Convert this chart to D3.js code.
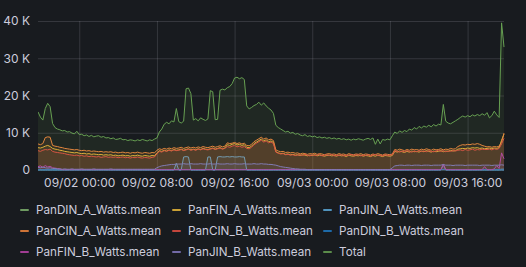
<!DOCTYPE html>
<html>
<head>
<meta charset="utf-8">
<script src="https://cdn.jsdelivr.net/npm/d3@7"></script>
<style>
  html, body { margin: 0; padding: 0; background: #181b1f; }
  svg { display: block; font-family: Inter, "Noto Sans", sans-serif; }
</style>
</head>
<body>
<svg id="chart" width="526" height="267"></svg>
<script>
// readings every 15 minutes, starting 09/01 19:45, values in K (kilowatts)
const startTime = new Date(2023, 8, 1, 19, 45);
const stepMinutes = 15;

const seriesNames = [
  "PanDIN_A_Watts.mean", "PanFIN_A_Watts.mean", "PanJIN_A_Watts.mean",
  "PanCIN_A_Watts.mean", "PanCIN_B_Watts.mean", "PanDIN_B_Watts.mean",
  "PanFIN_B_Watts.mean", "PanJIN_B_Watts.mean", "Total"
];
const seriesColors = [
  "#7EB26D", "#EAB839", "#5BA8D8",
  "#EF843C", "#E24D42", "#1F78C1",
  "#BA43A9", "#8378C0", "#67A052"
];

const yTicks = [0, 10, 20, 30, 40];

const dinA = [
  0.1, 0.1, 0.1, 0.1, 0.1, 0.1, 0.1, 0.1, 0.1, 0.1,
  0.1, 0.1, 0.1, 0.1, 0.1, 0.1, 0.1, 0.1, 0.1, 0.1,
  0.1, 0.1, 0.1, 0.1, 0.1, 0.1, 0.1, 0.1, 0.1, 0.1,
  0.1, 0.1, 0.1, 0.1, 0.1, 0.1, 0.1, 0.1, 0.1, 0.1,
  0.1, 0.1, 0.1, 0.1, 0.1, 0.1, 0.1, 0.1, 0.1, 0.1,
  0.1, 0.1, 0.1, 0.1, 0.1, 0.1, 0.1, 0.1, 0.1, 0.1,
  0.1, 0.1, 0.1, 0.1, 0.1, 0.1, 0.1, 0.1, 0.1, 0.1,
  0.1, 0.1, 0.1, 0.1, 0.1, 0.1, 0.1, 0.1, 0.1, 0.1,
  0.1, 0.1, 0.1, 0.1, 0.1, 0.1, 0.1, 0.1, 0.1, 0.1,
  0.1, 0.1, 0.1, 0.1, 0.1, 0.1, 0.1, 0.1, 0.1, 0.1,
  0.1, 0.1, 0.1, 0.1, 0.1, 0.1, 0.1, 0.1, 0.1, 0.1,
  0.1, 0.1, 0.1, 0.1, 0.1, 0.1, 0.1, 0.1, 0.1, 0.1,
  0.1, 0.1, 0.1, 0.1, 0.1, 0.1, 0.1, 0.1, 0.1, 0.1,
  0.1, 0.1, 0.1, 0.1, 0.1, 0.1, 0.1, 0.1, 0.1, 0.1,
  0.1, 0.1, 0.1, 0.1, 0.1, 0.1, 0.1, 0.1, 0.1, 0.1,
  0.1, 0.1, 0.1, 0.1, 0.1, 0.1, 0.1, 0.1, 0.1, 0.1,
  0.1, 0.1, 0.1, 0.1, 0.1, 0.1, 0.1, 0.1, 0.1, 0.1,
  0.1, 0.1, 0.1, 0.1, 0.1, 0.1, 0.1, 0.1, 0.1, 0.1,
  0.1, 0.1, 0.1, 0.1, 0.1, 0.1, 0.1, 0.1, 0.1, 0.1,
  0.1, 0.2, 0.2
];

// middle of the three orange-ish lines
const finA = [
  6.0, 5.9, 6.1, 6.4, 6.6, 6.3, 5.8, 5.6, 5.5, 5.3,
  5.2, 5.0, 4.9, 4.8, 4.7, 4.6, 4.7, 4.5, 4.4, 4.5,
  4.3, 4.4, 4.2, 4.3, 4.2, 4.1, 4.2, 4.0, 4.1, 4.0,
  4.1, 3.9, 4.0, 3.8, 3.9, 4.0, 3.8, 3.9, 3.7, 3.9,
  3.8, 4.0, 3.8, 3.7, 3.9, 3.8, 3.7, 3.9, 3.8, 4.6,
  5.2, 5.0, 5.3, 5.1, 5.4, 5.2, 5.5, 5.3, 5.4, 5.6,
  5.3, 5.5, 5.7, 5.4, 5.6, 5.4, 5.7, 5.5, 5.8, 5.6,
  5.5, 5.7, 5.9, 5.6, 5.8, 6.0, 5.7, 5.9, 6.8, 6.6,
  6.9, 7.1, 6.7, 6.9, 6.6, 6.8, 6.1, 6.0, 6.4, 7.1,
  7.5, 7.9, 8.3, 7.8, 8.1, 7.6, 7.8, 7.4, 4.9, 4.6,
  4.4, 4.5, 4.2, 4.3, 4.1, 4.2, 4.0, 4.1, 3.9, 4.1,
  4.0, 3.8, 4.0, 3.9, 4.1, 3.8, 4.0, 3.9, 3.7, 3.9,
  4.0, 3.8, 3.9, 3.7, 4.0, 3.8, 3.9, 3.6, 4.0, 3.8,
  3.7, 3.9, 3.8, 4.0, 3.7, 3.9, 3.8, 3.6, 3.9, 3.7,
  4.0, 3.8, 3.6, 3.9, 3.8, 3.7, 3.9, 5.0, 4.8, 5.1,
  4.9, 4.7, 5.0, 4.8, 5.1, 4.9, 5.0, 4.8, 5.1, 4.9,
  5.2, 5.0, 4.8, 5.1, 4.9, 5.0, 5.2, 4.9, 5.1, 5.0,
  5.3, 5.1, 5.2, 5.6, 5.7, 5.8, 5.7, 5.9, 5.8, 6.0,
  5.9, 6.0, 5.8, 5.9, 5.7, 5.8, 5.9, 5.7, 5.9, 5.8,
  6.0, 8.0, 9.6
];

const jinA = [
  0, 0, 0, 0, 0, 0, 0, 0, 0, 0,
  0, 0, 0, 0, 0, 0, 0, 0, 0, 0,
  0, 0, 0, 0, 0, 0, 0, 0, 0, 0,
  0, 0, 0, 0, 0, 0, 0, 0, 0, 0,
  0, 0, 0, 0, 0, 0, 0, 0, 0, 0,
  0, 0, 0, 0, 0, 0, 0, 1.8, 0, 0,
  3.5, 3.6, 3.5, 0, 0, 0, 0, 0, 0, 0,
  3.5, 3.5, 0, 0, 3.5, 3.6, 3.5, 3.5, 3.6, 3.5,
  3.6, 3.5, 3.5, 3.6, 3.5, 3.5, 0, 0, 0, 0,
  0, 0, 0, 0, 0, 0, 0, 0, 0, 0,
  0, 0, 0, 0, 0, 0, 0, 0, 0, 0,
  0, 0, 0, 0, 0, 0, 0, 0, 0, 0,
  0, 0, 0, 0, 0, 0, 0, 0, 0, 0,
  0, 0, 0, 0, 0, 0, 0, 0, 0, 0,
  0, 0, 0, 0, 0, 0, 0, 0, 0, 0,
  0, 0, 0, 0, 0, 0, 0, 0, 0, 0,
  0, 0, 0, 0, 0, 0, 0, 1.4, 0, 0,
  0, 0, 0, 0, 0, 0, 0, 0, 0, 0,
  0, 0, 0, 0, 0, 0, 0, 0, 0, 0,
  0, 0, 0
];

// upper line, with the early bump and the afternoon plateau
const cinA = [
  7.0, 6.8, 7.1, 8.7, 8.9, 8.8, 6.6, 6.4, 6.3, 6.1,
  6.0, 5.8, 5.7, 5.6, 5.5, 5.4, 5.5, 5.3, 5.2, 5.3,
  5.1, 5.2, 5.0, 5.1, 5.0, 4.9, 5.0, 4.8, 4.9, 4.8,
  4.9, 4.7, 4.8, 4.6, 4.7, 4.8, 4.6, 4.7, 4.5, 4.7,
  4.6, 4.8, 4.6, 4.5, 4.7, 4.6, 4.5, 4.7, 4.6, 5.3,
  5.7, 5.5, 5.8, 5.6, 5.9, 5.7, 6.0, 5.8, 5.9, 6.1,
  5.8, 6.0, 6.2, 5.9, 6.1, 5.9, 6.2, 6.0, 6.3, 6.1,
  6.0, 6.2, 6.4, 6.1, 6.3, 6.5, 6.2, 6.4, 7.3, 7.1,
  7.2, 7.4, 7.1, 7.3, 7.0, 7.2, 6.6, 6.5, 6.9, 7.6,
  8.0, 8.4, 8.8, 8.3, 8.6, 8.1, 8.3, 7.9, 5.4, 5.1,
  4.9, 5.0, 4.7, 4.8, 4.6, 4.7, 4.5, 4.6, 4.3, 4.5,
  4.4, 4.2, 4.4, 4.3, 4.5, 4.2, 4.4, 4.3, 4.1, 4.3,
  4.4, 4.2, 4.3, 4.1, 4.4, 4.2, 4.3, 4.0, 4.4, 4.2,
  4.1, 4.3, 4.2, 4.4, 4.1, 4.3, 4.2, 4.0, 4.3, 4.1,
  4.4, 4.2, 4.0, 4.3, 4.2, 4.1, 4.3, 5.5, 5.3, 5.6,
  5.4, 5.2, 5.5, 5.3, 5.6, 5.4, 5.5, 5.3, 5.6, 5.4,
  5.7, 5.5, 5.3, 5.6, 5.4, 5.5, 5.7, 5.4, 5.6, 5.5,
  5.8, 5.6, 5.7, 6.3, 6.6, 6.8, 6.7, 6.9, 6.8, 7.0,
  6.9, 7.1, 6.9, 6.6, 6.4, 6.2, 6.3, 6.1, 6.3, 6.2,
  6.4, 7.5, 9.9
];

const cinB = [
  5.2, 5.0, 5.3, 5.5, 5.4, 5.6, 5.0, 4.8, 4.7, 4.6,
  4.5, 4.4, 4.2, 4.1, 4.0, 3.9, 4.0, 3.8, 3.9, 3.7,
  3.8, 3.6, 3.7, 3.6, 3.5, 3.6, 3.4, 3.5, 3.6, 3.4,
  3.5, 3.4, 3.5, 3.3, 3.4, 3.5, 3.3, 3.4, 3.2, 3.4,
  3.3, 3.5, 3.3, 3.2, 3.4, 3.3, 3.2, 3.4, 3.5, 4.4,
  5.0, 4.8, 5.2, 5.0, 5.3, 5.1, 5.4, 5.2, 5.3, 5.5,
  5.2, 5.4, 5.6, 5.3, 5.5, 5.3, 5.6, 5.4, 5.7, 5.5,
  5.4, 5.6, 5.8, 5.5, 5.7, 5.9, 5.6, 5.8, 6.3, 6.1,
  6.4, 6.6, 6.2, 6.4, 6.1, 6.3, 5.8, 5.7, 6.1, 6.8,
  7.2, 7.6, 8.0, 7.5, 7.8, 7.3, 7.5, 7.1, 4.8, 4.5,
  4.3, 4.4, 4.1, 4.2, 4.0, 4.1, 3.9, 4.0, 4.1, 3.9,
  4.2, 4.0, 3.8, 4.1, 3.9, 4.0, 4.2, 3.8, 4.0, 4.1,
  3.9, 4.2, 3.8, 4.0, 3.9, 4.1, 3.8, 4.0, 3.9, 4.2,
  3.9, 4.0, 4.1, 3.8, 4.0, 3.9, 4.1, 3.8, 4.0, 4.2,
  3.9, 4.0, 3.8, 4.1, 3.9, 4.0, 4.1, 5.2, 5.0, 4.8,
  5.1, 4.9, 5.2, 5.0, 4.8, 5.1, 4.9, 5.2, 5.0, 5.1,
  4.9, 5.2, 5.0, 4.9, 5.1, 5.3, 5.0, 5.2, 4.9, 5.1,
  5.0, 5.2, 5.1, 5.3, 5.4, 5.2, 5.5, 5.3, 5.4, 5.6,
  5.3, 5.5, 5.4, 5.6, 5.5, 5.5, 5.6, 5.4, 5.7, 5.5,
  5.8, 7.0, 8.5
];

const dinB = [
  0.1, 0.1, 0.1, 0.1, 0.1, 0.1, 0.1, 0.1, 0.1, 0.1,
  0.1, 0.1, 0.1, 0.1, 0.1, 0.1, 0.1, 0.1, 0.1, 0.1,
  0.1, 0.1, 0.1, 0.1, 0.1, 0.1, 0.1, 0.1, 0.1, 0.1,
  0.1, 0.1, 0.1, 0.1, 0.1, 0.1, 0.1, 0.1, 0.1, 0.1,
  0.1, 0.1, 0.1, 0.1, 0.1, 0.1, 0.1, 0.1, 0.1, 0.1,
  0.1, 0.1, 0.1, 0.1, 0.1, 0.1, 0.1, 0.1, 0.1, 0.1,
  0.1, 0.1, 0.1, 0.1, 0.1, 0.1, 0.1, 0.1, 0.1, 0.1,
  0.1, 0.1, 0.1, 0.1, 0.1, 0.1, 0.1, 0.1, 0.1, 0.1,
  0.1, 0.1, 0.1, 0.1, 0.1, 0.1, 0.1, 0.1, 0.1, 0.1,
  0.1, 0.1, 0.1, 0.1, 0.1, 0.1, 0.1, 0.1, 0.1, 0.1,
  0.1, 0.1, 0.1, 0.1, 0.1, 0.1, 0.1, 0.1, 0.1, 0.1,
  0.1, 0.1, 0.1, 0.1, 0.1, 0.1, 0.1, 0.1, 0.1, 0.1,
  0.1, 0.1, 0.1, 0.1, 0.1, 0.1, 0.1, 0.1, 0.1, 0.1,
  0.1, 0.1, 0.1, 0.1, 0.1, 0.1, 0.1, 0.1, 0.1, 0.1,
  0.1, 0.1, 0.1, 0.1, 0.1, 0.1, 0.1, 0.1, 0.1, 0.1,
  0.1, 0.1, 0.1, 0.1, 0.1, 0.1, 0.1, 0.1, 0.1, 0.1,
  0.1, 0.1, 0.1, 0.1, 0.1, 0.1, 0.1, 0.1, 0.1, 0.1,
  0.1, 0.1, 0.1, 0.1, 0.1, 0.1, 0.1, 0.1, 0.1, 0.1,
  0.1, 0.1, 0.1, 0.1, 0.1, 0.1, 0.1, 0.1, 0.1, 0.1,
  0.1, 0.2, 0.2
];

const finB = [
  0.9, 1.1, 0.7, 1.2, 0.8, 1.0, 0.6, 0.5, 0.4, 0.3,
  0.1, 0.1, 0.1, 0.1, 0.1, 0.1, 0.1, 0.1, 0.1, 0.1,
  0.1, 0.1, 0.1, 0.1, 0.1, 0.1, 0.1, 0.1, 0.1, 0.1,
  0.1, 0.1, 0.1, 0.1, 0.1, 0.1, 0.1, 0.1, 0.1, 0.1,
  0.1, 0.1, 0.1, 0.1, 0.1, 0.1, 0.1, 0.1, 0.1, 0.1,
  0.1, 0.1, 0.1, 0.1, 0.1, 0.1, 0.1, 0.1, 0.1, 0.1,
  0.1, 0.1, 0.1, 0.1, 0.1, 0.1, 0.1, 0.1, 0.1, 0.1,
  0.1, 0.1, 0.1, 0.1, 0.1, 0.1, 0.1, 0.1, 0.1, 0.1,
  0.1, 0.1, 0.1, 0.1, 0.1, 0.1, 0.1, 0.1, 0.1, 0.1,
  0.1, 0.1, 0.1, 0.1, 0.1, 0.1, 0.1, 0.1, 0.1, 0.1,
  0.1, 0.1, 0.1, 0.1, 0.1, 0.1, 0.1, 0.1, 0.1, 0.1,
  0.1, 0.1, 0.1, 0.1, 0.1, 0.1, 0.1, 0.1, 0.1, 0.1,
  0.1, 0.1, 0.1, 0.1, 0.1, 0.1, 0.1, 0.1, 0.1, 0.1,
  0.1, 0.1, 0.1, 0.1, 0.1, 0.1, 0.1, 0.1, 0.1, 0.1,
  0.1, 0.1, 0.1, 0.1, 0.1, 0.1, 0.1, 0.1, 0.1, 0.1,
  0.1, 0.1, 0.1, 0.1, 0.1, 0.1, 0.1, 0.1, 0.1, 0.1,
  0.1, 0.1, 0.1, 0.1, 0.1, 0.1, 0.1, 1.6, 0.1, 0.1,
  0.1, 0.1, 0.1, 0.1, 0.1, 0.1, 0.1, 0.1, 0.1, 0.1,
  0.1, 0.1, 0.1, 0.1, 0.9, 0.1, 0.1, 0.1, 0.3, 1.2,
  0.4, 4.6, 3.0
];

const jinB = [
  0.7, 0.6, 0.8, 0.6, 0.5, 0.6, 0.4, 0.4, 0.3, 0.3,
  0.2, 0.3, 0.2, 0.2, 0.3, 0.2, 0.2, 0.2, 0.3, 0.2,
  0.2, 0.2, 0.2, 0.3, 0.2, 0.2, 0.2, 0.2, 0.2, 0.2,
  0.3, 0.2, 0.2, 0.2, 0.2, 0.2, 0.2, 0.2, 0.2, 0.2,
  0.2, 0.2, 0.2, 0.2, 0.2, 0.2, 0.2, 0.2, 0.2, 0.6,
  0.9, 1.1, 1.2, 1.3, 1.4, 1.5, 1.5, 1.6, 1.6, 1.6,
  1.7, 1.6, 1.6, 1.7, 1.6, 1.6, 1.6, 1.7, 1.6, 1.6,
  1.6, 1.7, 1.6, 1.6, 1.7, 1.6, 1.6, 1.6, 1.7, 1.6,
  1.6, 1.7, 1.6, 1.6, 1.6, 1.7, 1.6, 1.6, 1.6, 1.7,
  1.6, 1.6, 1.7, 1.6, 1.6, 1.5, 1.5, 1.4, 1.3, 1.1,
  0.9, 0.8, 0.7, 0.6, 0.5, 0.4, 0.3, 0.3, 0.2, 0.2,
  0.2, 0.1, 0.1, 0.1, 0.1, 0.1, 0.1, 0.1, 0.1, 0.1,
  0.1, 0.1, 0.1, 0.1, 0.1, 0.1, 0.1, 0.1, 0.1, 0.1,
  0.1, 0.1, 0.1, 0.1, 0.1, 0.1, 0.1, 0.1, 0.1, 0.1,
  0.1, 0.1, 0.1, 0.1, 0.1, 0.1, 0.6, 1.1, 1.2, 1.3,
  1.3, 1.2, 1.3, 1.3, 1.2, 1.3, 1.3, 1.3, 1.2, 1.3,
  1.3, 1.3, 1.2, 1.3, 1.3, 1.3, 1.3, 1.5, 1.3, 1.3,
  1.3, 1.2, 1.3, 1.3, 1.3, 1.3, 1.2, 1.3, 1.3, 1.3,
  1.3, 1.3, 1.2, 1.3, 1.3, 1.3, 1.3, 1.2, 1.3, 1.3,
  1.3, 1.4, 1.3
];

const total = [
  15.6, 14.2, 13.4, 16.5, 17.9, 17.0, 12.5, 11.4, 11.0, 10.8,
  10.5, 10.6, 10.2, 10.3, 9.9, 9.7, 10.4, 9.5, 9.6, 9.2,
  9.4, 9.0, 9.3, 8.9, 9.1, 9.2, 8.8, 9.0, 8.6, 8.7,
  8.4, 8.6, 8.2, 8.3, 8.5, 8.1, 8.2, 7.9, 8.1, 8.0,
  7.8, 8.1, 7.9, 8.2, 8.0, 7.8, 8.1, 7.9, 8.3, 8.6,
  10.2, 11.0, 12.3, 12.8, 12.4, 13.2, 12.9, 16.5, 13.0, 12.6,
  13.1, 21.8, 22.0, 20.5, 13.4, 13.8, 13.2, 14.0, 13.6, 13.3,
  13.7, 21.3, 21.0, 13.5, 13.6, 21.4, 21.7, 21.5, 22.1, 22.4,
  23.2, 24.7, 24.9, 24.5, 24.8, 24.3, 17.2, 16.4, 16.8, 17.3,
  17.6, 18.2, 17.4, 18.0, 17.2, 16.6, 16.1, 15.2, 12.0, 11.4,
  11.0, 10.6, 10.2, 10.4, 9.9, 10.1, 9.6, 9.8, 9.4, 9.2,
  9.5, 9.0, 9.2, 8.9, 9.1, 8.7, 8.9, 8.6, 8.8, 8.5,
  8.7, 8.4, 8.6, 8.3, 8.5, 8.2, 8.4, 8.1, 8.3, 8.0,
  8.3, 8.1, 8.4, 8.2, 8.0, 8.3, 8.5, 8.2, 8.6, 6.9,
  8.3, 7.0, 8.2, 8.0, 8.3, 8.1, 9.2, 10.2, 9.8, 10.5,
  10.1, 10.6, 10.3, 11.0, 10.7, 11.4, 11.0, 11.7, 11.3, 11.8,
  11.5, 12.0, 11.6, 12.2, 11.8, 12.3, 12.1, 17.6, 13.1, 12.6,
  12.4, 12.8, 13.2, 13.6, 14.1, 14.5, 14.2, 14.6, 14.3, 14.8,
  14.5, 14.9, 14.6, 15.1, 14.7, 15.4, 14.0, 14.6, 15.8, 14.8,
  14.1, 39.5, 33.0
];

const seriesValues = [dinA, finA, jinA, cinA, cinB, dinB, finB, jinB, total];

const times = total.map((d, i) => d3.timeMinute.offset(startTime, i * stepMinutes));

const svg = d3.select("#chart");
const plot = { left: 38, right: 504, top: 21, bottom: 170 };

const x = d3.scaleTime()
    .domain([times[0], times[times.length - 1]])
    .range([plot.left, plot.right]);

const y = d3.scaleLinear()
    .domain([0, 40])
    .range([plot.bottom, plot.top]);

const gridColor = "rgba(204, 204, 220, 0.16)";
const textColor = "#ccccdc";

// horizontal grid + y labels
const yAxis = d3.axisLeft(y)
    .tickValues(yTicks)
    .tickSize(-(plot.right - plot.left))
    .tickPadding(8)
    .tickFormat(d => d === 0 ? "0" : `${d} K`);

svg.append("g")
    .attr("transform", `translate(${plot.left},0)`)
    .call(yAxis)
    .call(g => g.select(".domain").remove())
    .call(g => g.selectAll(".tick line").attr("stroke", gridColor))
    .call(g => g.selectAll(".tick text")
        .attr("fill", textColor)
        .attr("font-size", 12)
        .attr("font-family", "Inter, sans-serif"));

// vertical grid + x labels
const xAxis = d3.axisBottom(x)
    .ticks(d3.timeHour.every(8))
    .tickSize(-(plot.bottom - plot.top))
    .tickPadding(8)
    .tickFormat(d3.timeFormat("%m/%d %H:%M"));

svg.append("g")
    .attr("transform", `translate(0,${plot.bottom})`)
    .call(xAxis)
    .call(g => g.select(".domain").remove())
    .call(g => g.selectAll(".tick line").attr("stroke", gridColor))
    .call(g => g.selectAll(".tick text")
        .attr("fill", textColor)
        .attr("font-size", 12)
        .attr("font-family", "Inter, sans-serif"));

svg.append("clipPath")
    .attr("id", "plot-clip")
    .append("rect")
    .attr("x", plot.left)
    .attr("y", plot.top - 2)
    .attr("width", plot.right - plot.left + 1)
    .attr("height", plot.bottom - plot.top + 3);

const area = d3.area()
    .x((d, i) => x(times[i]))
    .y0(y(0))
    .y1(d => y(d));

const line = d3.line()
    .x((d, i) => x(times[i]))
    .y(d => y(d));

const marks = svg.append("g").attr("clip-path", "url(#plot-clip)");

seriesValues.forEach((values, k) => {
    marks.append("path")
        .attr("d", area(values))
        .attr("fill", seriesColors[k])
        .attr("fill-opacity", 0.1);
    marks.append("path")
        .attr("d", line(values))
        .attr("fill", "none")
        .attr("stroke", seriesColors[k])
        .attr("stroke-width", 1);
});

// legend, three per row
const legendCols = [36, 188, 339];
const legendRows = [210, 231, 252];

const legend = svg.append("g").attr("class", "legend");
seriesNames.forEach((name, k) => {
    const cx = legendCols[k % 3];
    const cy = legendRows[Math.floor(k / 3)];
    legend.append("rect")
        .attr("x", cx - 16)
        .attr("y", cy - 1)
        .attr("width", 9)
        .attr("height", 2)
        .attr("rx", 1)
        .attr("fill", seriesColors[k])
        .attr("opacity", 0.85);
    legend.append("text")
        .attr("x", cx)
        .attr("y", cy)
        .attr("dy", "0.35em")
        .attr("fill", textColor)
        .attr("font-size", 11.7)
        .text(name);
});
</script>
</body>
</html>
